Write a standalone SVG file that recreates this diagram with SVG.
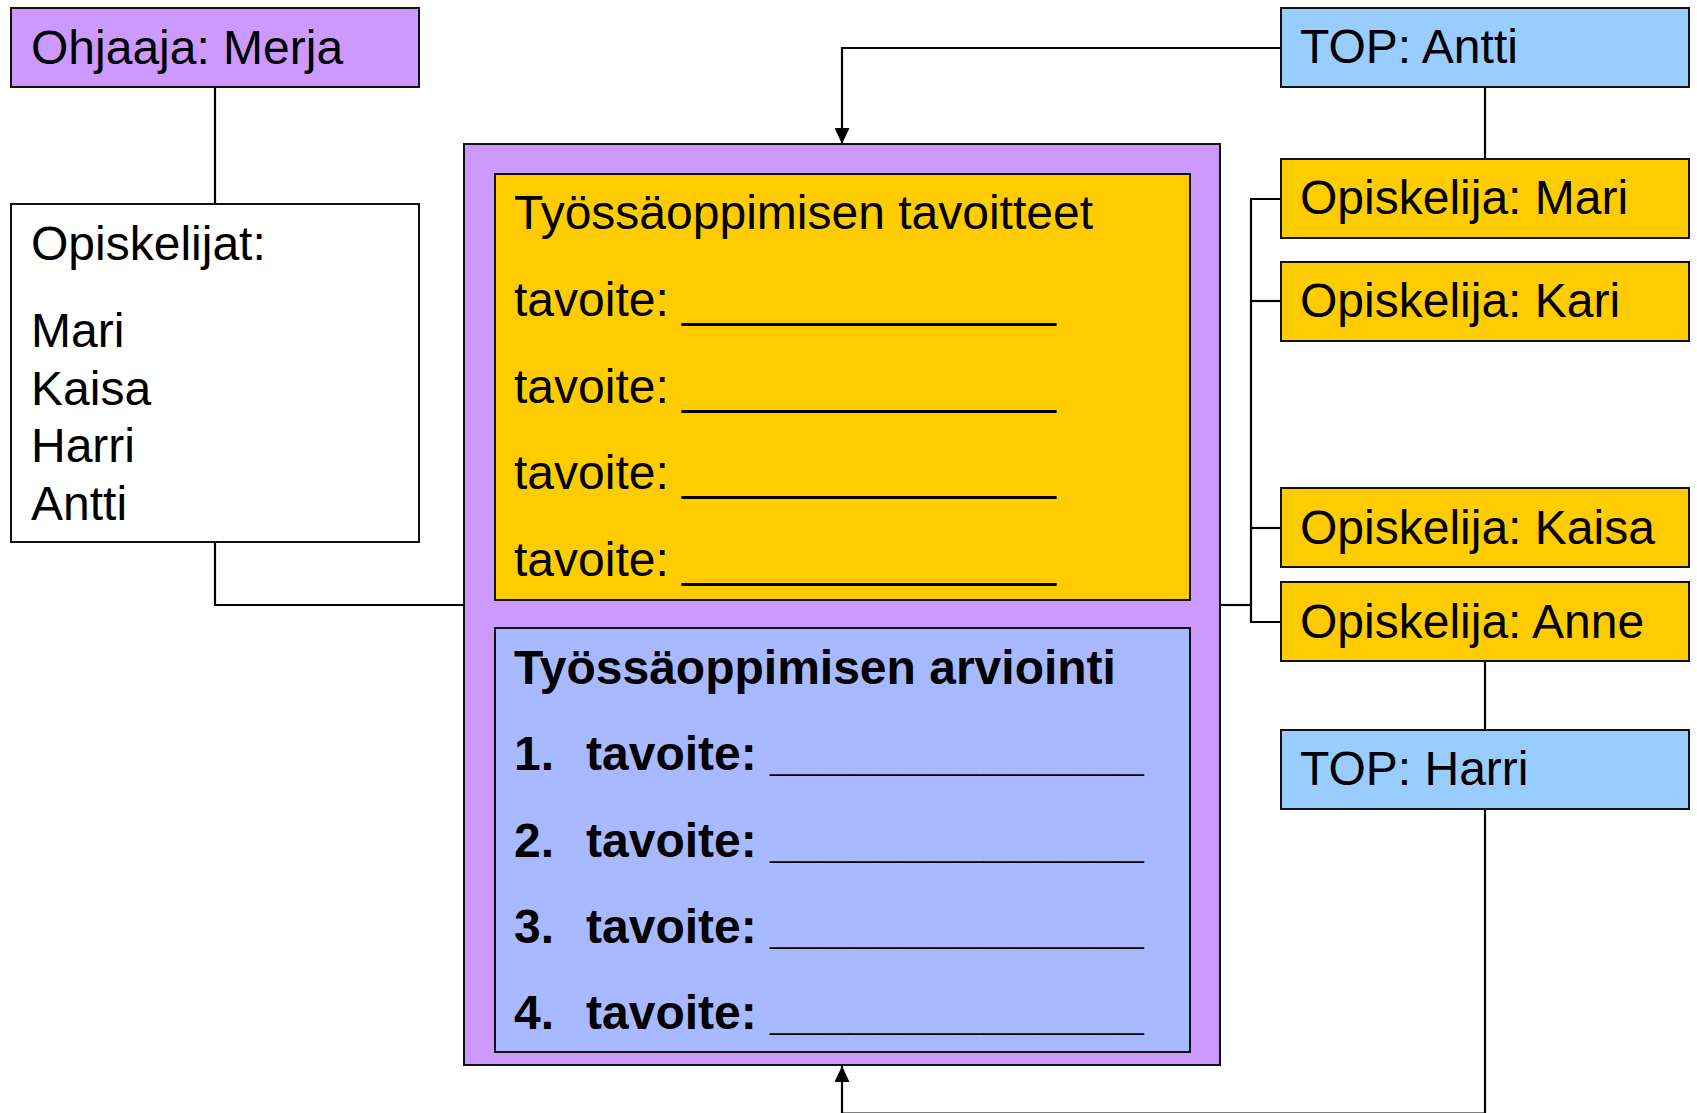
<svg xmlns="http://www.w3.org/2000/svg" width="1697" height="1113" viewBox="0 0 1697 1113">
<style>
.box{stroke:#111;stroke-width:2}
.purple{fill:#CC99FF}
.yellow{fill:#FFCC00}
.lblue{fill:#99CCFF}
.iblue{fill:#A9B9FF}
.white{fill:#FFFFFF}
.t{font-family:"Liberation Sans",Arial,sans-serif;font-size:48px;fill:#000}
.b{font-family:"Liberation Sans",Arial,sans-serif;font-size:48px;font-weight:bold;fill:#000}
.ln{fill:none;stroke:#000;stroke-width:2.2}
</style>
<defs>
<marker id="arr" viewBox="0 0 16 15" refX="16" refY="7.5" markerWidth="16" markerHeight="15" markerUnits="userSpaceOnUse" orient="auto">
<path d="M0,0 L16,7.5 L0,15 z" fill="#000"/>
</marker>
</defs>
<rect width="1697" height="1113" fill="#fff"/>
<g id="connectors">
<path class="ln" d="M215,87 V205"/>
<path class="ln" d="M215,542 V605 H464"/>
<path class="ln" d="M1280,48 H842 V144" marker-end="url(#arr)"/>
<path class="ln" d="M1485,87 V159"/>
<path class="ln" d="M1220,605 H1251"/>
<path class="ln" d="M1280,199 H1251 V622 H1280"/>
<path class="ln" d="M1251,301 H1280"/>
<path class="ln" d="M1251,528 H1280"/>
<path class="ln" d="M1485,661 V730"/>
<path class="ln" d="M1485,809 V1113.5 H842 V1066" marker-end="url(#arr)"/>
</g>
<g id="ohjaaja">
<rect class="box purple" x="11" y="8" width="408" height="79"/>
<text class="t" x="31" y="64">Ohjaaja: Merja</text>
</g>
<g id="opiskelijat">
<rect class="box white" x="11" y="204" width="408" height="338"/>
<text class="t" x="31" y="260">Opiskelijat:</text>
<text class="t" x="31" y="347">Mari</text>
<text class="t" x="31" y="405">Kaisa</text>
<text class="t" x="31" y="462">Harri</text>
<text class="t" x="31" y="520">Antti</text>
</g>
<g id="main">
<rect class="box purple" x="464" y="144" width="756" height="921"/>
<g id="tavoitteet">
<rect class="box yellow" x="495" y="174" width="695" height="426"/>
<text class="t" x="514" y="229">Työssäoppimisen tavoitteet</text>
<text class="t" x="514" y="316">tavoite: ______________</text>
<text class="t" x="514" y="403">tavoite: ______________</text>
<text class="t" x="514" y="489">tavoite: ______________</text>
<text class="t" x="514" y="576">tavoite: ______________</text>
</g>
<g id="arviointi">
<rect class="box iblue" x="495" y="628" width="695" height="424"/>
<text class="b" x="514" y="684">Työssäoppimisen arviointi</text>
<text class="b" x="514" y="770">1.</text><text class="b" x="586" y="770">tavoite: ______________</text>
<text class="b" x="514" y="857">2.</text><text class="b" x="586" y="857">tavoite: ______________</text>
<text class="b" x="514" y="943">3.</text><text class="b" x="586" y="943">tavoite: ______________</text>
<text class="b" x="514" y="1029">4.</text><text class="b" x="586" y="1029">tavoite: ______________</text>
</g>
</g>
<g id="top-antti">
<rect class="box lblue" x="1281" y="8" width="408" height="79"/>
<text class="t" x="1300" y="63">TOP: Antti</text>
</g>
<g id="opiskelija-mari">
<rect class="box yellow" x="1281" y="159" width="408" height="79"/>
<text class="t" x="1300" y="214">Opiskelija: Mari</text>
</g>
<g id="opiskelija-kari">
<rect class="box yellow" x="1281" y="262" width="408" height="79"/>
<text class="t" x="1300" y="317">Opiskelija: Kari</text>
</g>
<g id="opiskelija-kaisa">
<rect class="box yellow" x="1281" y="488" width="408" height="79"/>
<text class="t" x="1300" y="544">Opiskelija: Kaisa</text>
</g>
<g id="opiskelija-anne">
<rect class="box yellow" x="1281" y="582" width="408" height="79"/>
<text class="t" x="1300" y="638">Opiskelija: Anne</text>
</g>
<g id="top-harri">
<rect class="box lblue" x="1281" y="730" width="408" height="79"/>
<text class="t" x="1300" y="785">TOP: Harri</text>
</g>
</svg>
